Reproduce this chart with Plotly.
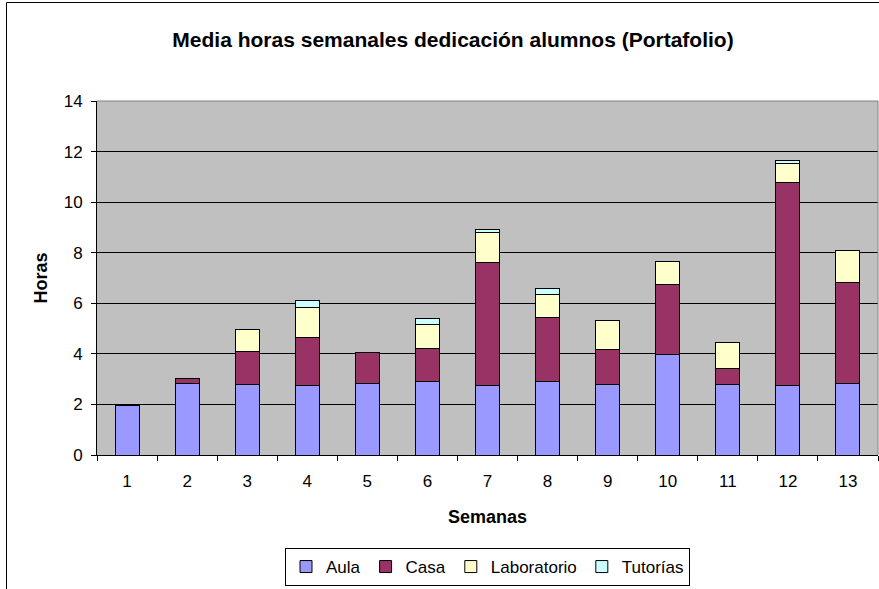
import plotly.graph_objects as go

semanas = ["1", "2", "3", "4", "5", "6", "7", "8", "9", "10", "11", "12", "13"]
aula = [1.95, 2.83, 2.79, 2.73, 2.83, 2.90, 2.73, 2.90, 2.79, 3.99, 2.79, 2.73, 2.83]
casa = [0.05, 0.20, 1.31, 1.90, 1.22, 1.33, 4.87, 2.52, 1.37, 2.74, 0.64, 8.03, 3.98]
laboratorio = [0, 0, 0.88, 1.20, 0, 0.95, 1.19, 0.93, 1.16, 0.94, 1.03, 0.75, 1.26]
tutorias = [0, 0, 0, 0.29, 0, 0.20, 0.13, 0.24, 0, 0, 0, 0.12, 0]

series = [
    ("Aula", aula, "#9999FF"),
    ("Casa", casa, "#993366"),
    ("Laboratorio", laboratorio, "#FFFFCC"),
    ("Tutorías", tutorias, "#CCFFFF"),
]

fig = go.Figure()
for name, vals, col in series:
    fig.add_trace(go.Bar(
        x=semanas, y=vals, name=name,
        marker=dict(color=col, line=dict(color="black", width=1)),
    ))

font = "Liberation Sans, Arial, sans-serif"
fig.update_layout(
    width=879, height=589,
    barmode="stack", bargap=0.6,
    plot_bgcolor="#C0C0C0", paper_bgcolor="white",
    margin=dict(l=97, r=1, t=101, b=134),
    font=dict(family=font, size=17, color="black"),
    title=dict(text="<b>Media horas semanales dedicación alumnos (Portafolio)</b>",
               x=453 / 879, xanchor="center", xref="container",
               y=1 - 40 / 589, yanchor="middle",
               font=dict(size=21, family=font)),
    xaxis=dict(
        title=dict(text="<b>Semanas</b>", font=dict(size=18), standoff=19),
        type="category", tickson="boundaries", ticks="outside", ticklen=5,
        tickcolor="black", showline=True, linecolor="black", linewidth=1,
        showgrid=False, tickfont=dict(size=17), automargin=False,
        ticklabelstandoff=11,
    ),
    yaxis=dict(
        title=dict(text="<b>Horas</b>", font=dict(size=18), standoff=11),
        range=[0, 14], dtick=2, ticks="outside", ticklen=5, tickcolor="black",
        showline=True, linecolor="black", linewidth=1,
        gridcolor="black", gridwidth=1, tickfont=dict(size=17), zeroline=False,
        automargin=False, ticklabelstandoff=5,
    ),
    legend=dict(
        orientation="h", x=0.5, xanchor="center", xref="paper",
        y=-(567 - 455) / 354, yanchor="middle",
        bordercolor="black", borderwidth=1, bgcolor="white",
        font=dict(size=17), traceorder="normal", itemwidth=30,
        tracegroupgap=0,
    ),
    shapes=[
        dict(type="line", xref="paper", yref="paper", x0=1, x1=1, y0=0, y1=1,
             line=dict(color="#808080", width=1)),
        dict(type="line", xref="paper", yref="paper", x0=0, x1=1, y0=1, y1=1,
             line=dict(color="#808080", width=1)),
        dict(type="line", xref="paper", yref="paper",
             x0=(6.5 - 97) / 781, x1=(6.5 - 97) / 781, y0=(455 - 2.5) / 354, y1=-0.5,
             line=dict(color="black", width=1)),
        dict(type="line", xref="paper", yref="paper",
             x0=(6.5 - 97) / 781, x1=1.01, y0=(455 - 2.5) / 354, y1=(455 - 2.5) / 354,
             line=dict(color="black", width=1)),
    ],
)

fig.write_html("out.html", config={"displayModeBar": False},
               post_script="document.body.style.margin='0';document.body.style.overflow='hidden';")
